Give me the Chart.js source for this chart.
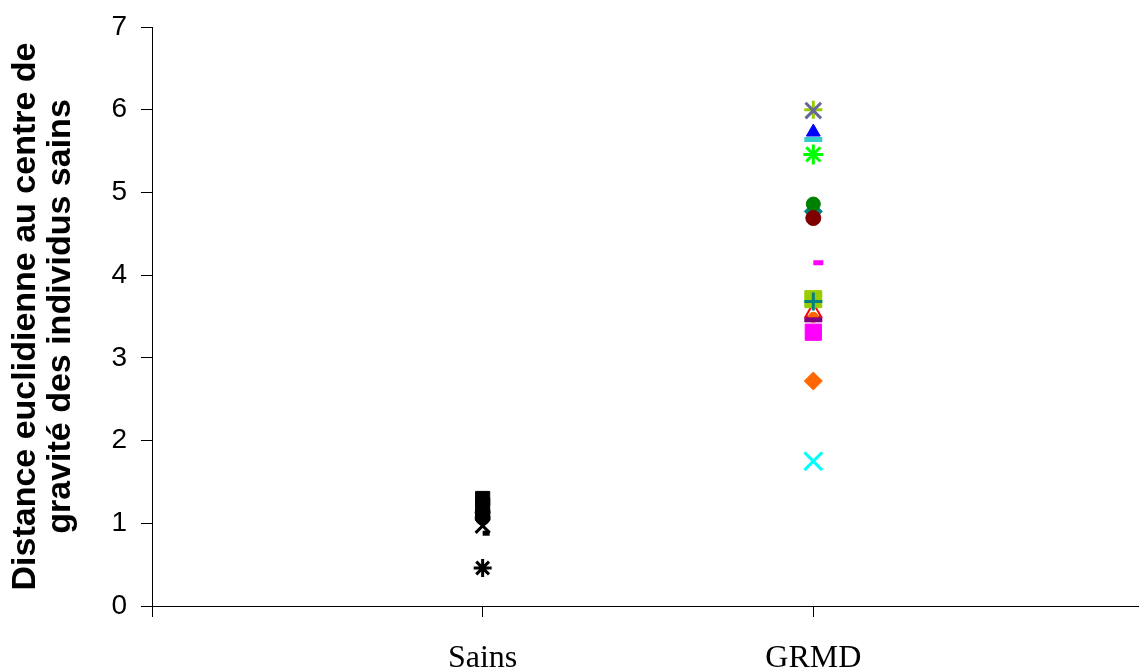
<!DOCTYPE html>
<html>
<head>
<meta charset="utf-8">
<script src="https://cdn.jsdelivr.net/npm/chart.js@4.4.1/dist/chart.umd.min.js"></script>
<style>
    html, body { margin: 0; padding: 0; background: #ffffff; overflow: hidden; }
    #wrap { position: relative; width: 1139px; height: 672px; }
    canvas { display: block; }
</style>
</head>
<body>
<div id="wrap"><canvas id="distanceChart"></canvas></div>
<script>
// categories on the x axis (placed at x = 1, 2)
const categories = ['Sains', 'GRMD'];
const yTicks = [0, 1, 2, 3, 4, 5, 6, 7];
const yTitle = ['Distance euclidienne au centre de', 'gravité des individus sains'];

// distances (in drawing order)
const sainsValues = [0.46, 1.07, 1.13, 1.22, 1.30, 0.97, 0.88];
const grmdValues = [1.75, 2.72, 3.31, 3.55, 3.49, 3.46, 3.71, 3.68, 4.15, 4.77, 4.86, 4.69, 5.46, 5.64, 5.73, 6.00, 5.99];

document.addEventListener('DOMContentLoaded', () => {
    // marker look for each point: colour, style, radius, line width, filled
    const sainsMarkers = [
        ['#000000', 'star', 9, 3, false],
        ['#000000', 'circle', 7.5, 1, true],
        ['#000000', 'circle', 7.5, 1, true],
        ['#000000', 'rect', 10, 1, true],
        ['#000000', 'rect', 10, 1, true],
        ['#000000', 'crossRot', 10, 3, false],
        ['#000000', 'dash', 7, 5, false]
    ];
    const grmdMarkers = [
        ['#00FFFF', 'crossRot', 12.5, 3, false],
        ['#FF6600', 'rectRot', 9, 1, true],
        ['#FF00FF', 'rect', 11.5, 1, true],
        ['#FF0000', 'triangle', 9, 2, false],
        ['#FF6600', 'circle', 5, 1, true],
        ['#800080', 'line', 9, 5, false],
        ['#99CC00', 'rect', 12, 1, true],
        ['#008080', 'cross', 9, 3, false],
        ['#FF00FF', 'dash', 10, 5, false],
        ['#008080', 'rectRot', 9, 1, true],
        ['#008000', 'circle', 7, 1, true],
        ['#800000', 'circle', 7.5, 1, true],
        ['#00FF00', 'star', 10, 3, false],
        ['#33CCCC', 'line', 9, 5, false],
        ['#0000FF', 'triangle', 8, 1, true],
        ['#99CC00', 'cross', 9, 3, false],
        ['#666699', 'crossRot', 11, 3, false]
    ];

    function buildDataset(label, xPos, values, markers) {
        return {
            label: label,
            data: values.map(v => ({ x: xPos, y: v })),
            pointStyle: markers.map(m => m[1]),
            pointRadius: markers.map(m => m[2]),
            pointHoverRadius: markers.map(m => m[2]),
            pointBorderWidth: markers.map(m => m[3]),
            pointBorderColor: markers.map(m => m[0]),
            pointBackgroundColor: markers.map(m => m[4] ? m[0] : 'rgba(0,0,0,0)'),
            showLine: false,
            clip: false
        };
    }

    const ctx = document.getElementById('distanceChart').getContext('2d');
    new Chart(ctx, {
        type: 'scatter',
        data: {
            datasets: [
                buildDataset(categories[1], 2, grmdValues, grmdMarkers),
                buildDataset(categories[0], 1, sainsValues, sainsMarkers)
            ]
        },
        options: {
            responsive: true,
            maintainAspectRatio: false,
            animation: false,
            layout: { autoPadding: false, padding: { top: 27, right: 0, bottom: 0, left: 0 } },
            plugins: { legend: { display: false }, tooltip: { enabled: false } },
            scales: {
                x: {
                    type: 'linear',
                    min: 0,
                    max: 2.985,
                    afterBuildTicks: scale => { scale.ticks = [0, 1, 2].map(v => ({ value: v })); },
                    afterFit: scale => {
                        scale.height = 66;
                        scale.paddingLeft = 0;
                        scale.paddingRight = 0;
                    },
                    border: { display: true, color: '#000000', width: 1 },
                    grid: { display: true, drawOnChartArea: false, drawTicks: true, tickLength: 11, color: '#000000' },
                    ticks: {
                        padding: 22,
                        color: '#000000',
                        font: { family: "'Liberation Serif', 'Times New Roman', serif", size: 32 },
                        callback: v => categories[v - 1] || ''
                    }
                },
                y: {
                    min: 0,
                    max: 7,
                    afterBuildTicks: scale => { scale.ticks = yTicks.map(v => ({ value: v })); },
                    afterFit: scale => {
                        scale.width = 152;
                        scale.paddingTop = 0;
                        scale.paddingBottom = 0;
                    },
                    border: { display: true, color: '#000000', width: 1 },
                    grid: { display: true, drawOnChartArea: false, drawTicks: true, tickLength: 11, color: '#000000' },
                    ticks: {
                        padding: 14,
                        color: '#000000',
                        font: { family: "'Liberation Sans', Arial, sans-serif", size: 28 }
                    },
                    title: {
                        display: true,
                        text: yTitle,
                        color: '#000000',
                        padding: { top: 8, bottom: 0 },
                        font: { family: "'Liberation Sans', Arial, sans-serif", size: 34, weight: 'bold', lineHeight: 35 / 34 }
                    }
                }
            }
        }
    });
});
</script>
</body>
</html>
